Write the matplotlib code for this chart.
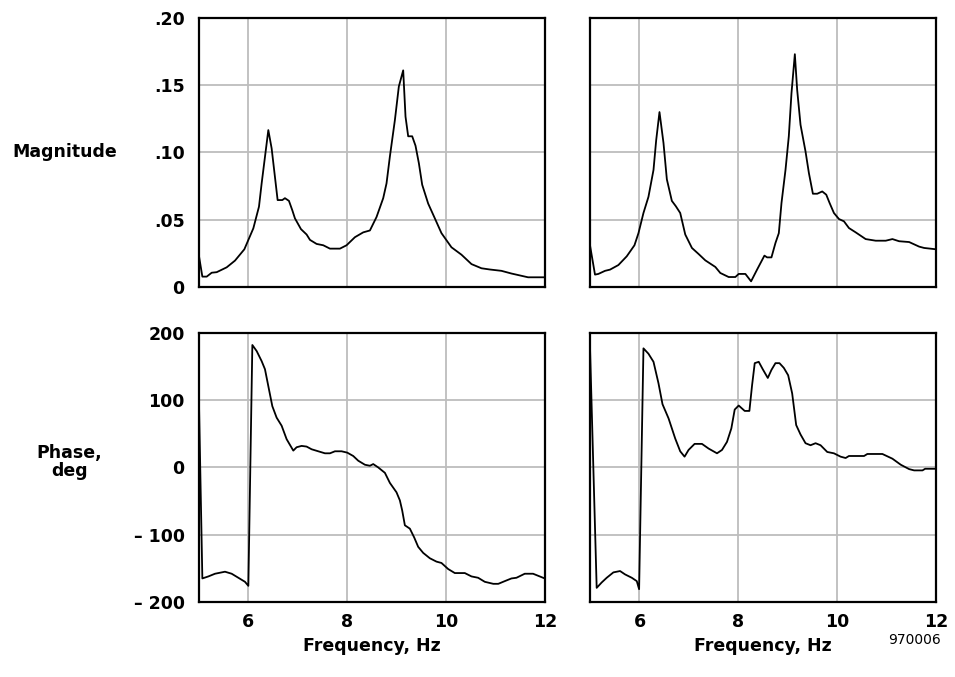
import matplotlib
matplotlib.use("Agg")
import matplotlib.pyplot as plt

plt.rcParams['font.family'] = ['DejaVu Sans']

# ---- data ----
freq_mag_l = [5.0, 5.077, 5.165, 5.266, 5.367, 5.569, 5.737, 5.926, 6.108, 6.222, 6.276, 6.411,
              6.478, 6.599, 6.694, 6.747, 6.828, 6.896, 6.949, 7.071, 7.185, 7.253, 7.387, 7.522,
              7.657, 7.859, 7.993, 8.162, 8.330, 8.465, 8.599, 8.734, 8.801, 8.869, 8.970, 9.050,
              9.138, 9.185, 9.239, 9.320, 9.387, 9.455, 9.522, 9.643, 9.778, 9.912, 10.114, 10.316,
              10.519, 10.721, 10.889, 11.125, 11.327, 11.663, 12.0]
mag_l = [0.025, 0.0077, 0.0077, 0.0106, 0.011, 0.0146, 0.0196, 0.028, 0.0436, 0.0597, 0.077, 0.1166,
         0.103, 0.0646, 0.0646, 0.066, 0.064, 0.057, 0.051, 0.043, 0.039, 0.035, 0.032, 0.031,
         0.0285, 0.0285, 0.031, 0.037, 0.0406, 0.042, 0.052, 0.066, 0.077, 0.097, 0.124, 0.149,
         0.161, 0.1266, 0.112, 0.112, 0.105, 0.092, 0.076, 0.062, 0.051, 0.040, 0.0295, 0.024,
         0.017, 0.0139, 0.013, 0.012, 0.010, 0.0072, 0.0072]

freq_mag_r = [5.0, 5.101, 5.169, 5.304, 5.405, 5.574, 5.743, 5.899, 5.980, 6.081, 6.182, 6.284,
              6.338, 6.405, 6.486, 6.554, 6.655, 6.736, 6.824, 6.872, 6.926, 7.061, 7.196, 7.331,
              7.534, 7.635, 7.804, 7.939, 8.007, 8.142, 8.257, 8.378, 8.527, 8.581, 8.669, 8.750,
              8.818, 8.872, 8.953, 9.020, 9.074, 9.142, 9.189, 9.257, 9.358, 9.426, 9.507, 9.595,
              9.696, 9.777, 9.845, 9.932, 10.034, 10.135, 10.236, 10.372, 10.574, 10.777, 10.980,
              11.115, 11.250, 11.453, 11.655, 11.757, 12.0]
mag_r = [0.031, 0.0092, 0.0097, 0.012, 0.0129, 0.0163, 0.0228, 0.031, 0.040, 0.055, 0.067, 0.087,
         0.109, 0.130, 0.107, 0.080, 0.064, 0.060, 0.055, 0.0475, 0.039, 0.029, 0.0245, 0.0198,
         0.0149, 0.0104, 0.0074, 0.0074, 0.0097, 0.0097, 0.0042, 0.0129, 0.0233, 0.022, 0.022, 0.0327,
         0.040, 0.0624, 0.087, 0.112, 0.144, 0.173, 0.1465, 0.1205, 0.1007, 0.0847, 0.0693, 0.0693,
         0.071, 0.0686, 0.0624, 0.055, 0.0505, 0.0488, 0.0438, 0.0406, 0.0356, 0.0344, 0.0344,
         0.0356, 0.034, 0.0334, 0.030, 0.029, 0.028]

freq_ph_l = [5.0, 5.077, 5.199, 5.333, 5.535, 5.670, 5.805, 5.939, 6.007, 6.088, 6.175, 6.276,
             6.343, 6.424, 6.492, 6.579, 6.680, 6.781, 6.916, 6.983, 7.084, 7.185, 7.286, 7.421,
             7.556, 7.657, 7.758, 7.892, 8.007, 8.128, 8.229, 8.364, 8.465, 8.532, 8.633, 8.768,
             8.869, 9.003, 9.071, 9.118, 9.172, 9.273, 9.360, 9.441, 9.542, 9.677, 9.811, 9.912,
             10.047, 10.182, 10.384, 10.519, 10.653, 10.788, 10.960, 11.061, 11.192, 11.327, 11.428,
             11.596, 11.764, 12.0]
phase_l = [130, -165, -162, -158, -155, -158, -164, -170, -176, 182, 173, 158,
           146, 116, 91, 74, 62, 42, 25, 30, 32, 31, 27, 24,
           21, 21, 24, 24, 22, 17, 10, 4, 2.5, 5, 0, -8,
           -23, -37, -49, -64, -86, -91, -104, -118, -127, -135, -140, -142,
           -151, -157, -157, -162, -164, -170, -173, -173, -169, -165, -164,
           -158, -158, -165]

freq_ph_r = [5.0, 5.135, 5.236, 5.338, 5.473, 5.608, 5.709, 5.845, 5.946, 5.993, 6.081, 6.182,
             6.284, 6.385, 6.466, 6.588, 6.723, 6.824, 6.912, 6.993, 7.115, 7.264, 7.399, 7.568,
             7.669, 7.770, 7.858, 7.926, 8.007, 8.128, 8.223, 8.277, 8.331, 8.412, 8.493, 8.595,
             8.669, 8.750, 8.831, 8.919, 9.007, 9.088, 9.169, 9.257, 9.358, 9.459, 9.561, 9.662,
             9.797, 9.932, 10.068, 10.169, 10.236, 10.372, 10.541, 10.608, 10.912, 11.115, 11.284,
             11.453, 11.554, 11.723, 11.777, 12.0]
phase_r = [179, -179, -171, -164, -156, -154, -159, -164, -169, -181, 177, 169,
           157, 125, 94, 73, 43, 24, 16, 26, 35, 35, 28, 21,
           26, 38, 58, 86, 92, 84, 84, 122, 155, 157, 146, 133,
           145, 155, 155, 148, 137, 110, 63, 49, 36, 33, 36, 33,
           23, 21, 16, 14, 17, 17, 17, 20, 20, 13, 4,
           -2.5, -4.4, -4.4, -2, -2]

mag_ticks = [0, 0.05, 0.10, 0.15, 0.20]
mag_labels = ['0', '.05', '.10', '.15', '.20']
ph_ticks = [-200, -100, 0, 100, 200]
ph_labels = ['\u2013 200', '\u2013 100', '0', '100', '200']
freq_ticks = [6, 8, 10, 12]

fig = plt.figure(figsize=(9.55, 6.77), dpi=100)

col_left = [0.2079, 0.6178]
col_w = 0.3625
row_bottom = [0.5761, 0.1108]
row_h = 0.3975

panels = [
    (0, 0, freq_mag_l, mag_l),
    (0, 1, freq_mag_r, mag_r),
    (1, 0, freq_ph_l, phase_l),
    (1, 1, freq_ph_r, phase_r),
]

for row, col, fx, fy in panels:
    ax = fig.add_axes([col_left[col], row_bottom[row], col_w, row_h])
    ax.plot(fx, fy, color='black', linewidth=1.3, zorder=3)
    ax.set_xlim(5, 12)
    ax.set_xticks(freq_ticks)
    if row == 0:
        ax.set_ylim(0, 0.20)
        ax.set_yticks(mag_ticks)
        ax.set_yticklabels(mag_labels)
    else:
        ax.set_ylim(-200, 200)
        ax.set_yticks(ph_ticks)
        ax.set_yticklabels(ph_labels)
    ax.grid(True, color='#bdbdbd', linewidth=1.3, zorder=1)
    ax.tick_params(length=0, labelsize=12.5, pad=10)
    for lab in ax.get_xticklabels() + ax.get_yticklabels():
        lab.set_fontweight('bold')
    if col == 1:
        ax.tick_params(labelleft=False)
    if row == 0:
        ax.tick_params(labelbottom=False)
    else:
        ax.tick_params(axis='x', pad=8)
        ax.set_xlabel('Frequency, Hz', fontsize=12.5, fontweight='bold', labelpad=4)
    for s in ax.spines.values():
        s.set_linewidth(1.6)
        s.set_color('black')
        s.set_zorder(4)

fig.text(0.068, 0.775, 'Magnitude', fontsize=12.5, fontweight='bold', ha='center', va='center')
fig.text(0.0725, 0.318, 'Phase,\ndeg', fontsize=12.5, fontweight='bold', ha='center', va='center',
         linespacing=1.0)
fig.text(0.985, 0.054, '970006', fontsize=10, ha='right', va='center')

fig.savefig('out.png', dpi=100)
